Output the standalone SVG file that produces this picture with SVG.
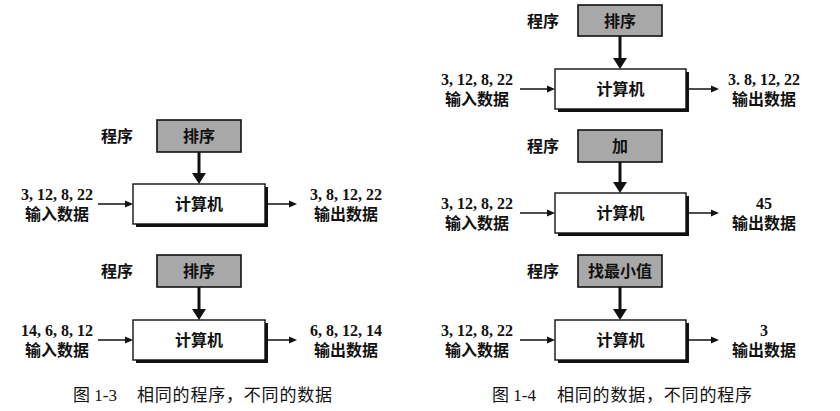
<svg xmlns="http://www.w3.org/2000/svg" width="840" height="411" viewBox="0 0 840 411">
<style>
.t{font-family:"Liberation Serif","Noto Sans CJK SC",serif;font-size:16px;font-weight:700;fill:#111;text-anchor:middle}
.cap{font-family:"Liberation Serif","Noto Sans CJK SC",serif;font-size:17px;font-weight:400;fill:#111}
.prog{fill:#a8a8a8;stroke:#111;stroke-width:1.6}
.comp{fill:#fff;stroke:#111;stroke-width:1.4}
.sh{fill:#111}
.thick{stroke:#111;stroke-width:3;fill:none}
.thin{stroke:#111;stroke-width:1.5;fill:none}
</style>
<defs>
<marker id="ah" markerUnits="userSpaceOnUse" markerWidth="12" markerHeight="14" refX="3" refY="7" orient="auto">
<path d="M0,0 L11,7 L0,14 z" fill="#111"/>
</marker>
<marker id="as" markerUnits="userSpaceOnUse" markerWidth="9" markerHeight="8" refX="2" refY="4" orient="auto">
<path d="M0,0.5 L8,4 L0,7.5 z" fill="#111"/>
</marker>
</defs>
<rect width="840" height="411" fill="#fff"/>

<!-- Figure 1-3, top -->
<g id="l1-program-label"><text class="t" x="117" y="142">程序</text></g>
<g id="l1-program"><rect class="prog" x="157" y="120" width="84" height="32"/><text class="t" x="199" y="142">排序</text></g>
<g id="l1-computer"><rect class="sh" x="136" y="187" width="132" height="40"/><rect class="comp" x="133" y="184" width="132" height="40"/><text class="t" x="199" y="210">计算机</text></g>
<g id="l1-input"><text class="t" x="57" y="200">3, 12, 8, 22</text><text class="t" x="57" y="220">输入数据</text></g>
<g id="l1-output"><text class="t" x="346" y="200">3, 8, 12, 22</text><text class="t" x="346" y="220">输出数据</text></g>

<!-- Figure 1-3, bottom -->
<g id="l2-program-label"><text class="t" x="117" y="277">程序</text></g>
<g id="l2-program"><rect class="prog" x="157" y="255" width="84" height="32"/><text class="t" x="199" y="277">排序</text></g>
<g id="l2-computer"><rect class="sh" x="136" y="323" width="132" height="40"/><rect class="comp" x="133" y="320" width="132" height="40"/><text class="t" x="199" y="346">计算机</text></g>
<g id="l2-input"><text class="t" x="57" y="336">14, 6, 8, 12</text><text class="t" x="57" y="356">输入数据</text></g>
<g id="l2-output"><text class="t" x="346" y="336">6, 8, 12, 14</text><text class="t" x="346" y="356">输出数据</text></g>

<!-- Figure 1-4, top -->
<g id="r1-program-label"><text class="t" x="543" y="27">程序</text></g>
<g id="r1-program"><rect class="prog" x="578" y="5" width="84" height="31"/><text class="t" x="620" y="27">排序</text></g>
<g id="r1-computer"><rect class="sh" x="558" y="72" width="131" height="40"/><rect class="comp" x="555" y="69" width="131" height="40"/><text class="t" x="620.5" y="95">计算机</text></g>
<g id="r1-input"><text class="t" x="477" y="85">3, 12, 8, 22</text><text class="t" x="477" y="105">输入数据</text></g>
<g id="r1-output"><text class="t" x="764" y="85">3. 8, 12, 22</text><text class="t" x="764" y="105">输出数据</text></g>

<!-- Figure 1-4, middle -->
<g id="r2-program-label"><text class="t" x="543" y="152">程序</text></g>
<g id="r2-program"><rect class="prog" x="578" y="130" width="84" height="32"/><text class="t" x="620" y="152">加</text></g>
<g id="r2-computer"><rect class="sh" x="558" y="196" width="131" height="40"/><rect class="comp" x="555" y="193" width="131" height="40"/><text class="t" x="620.5" y="219">计算机</text></g>
<g id="r2-input"><text class="t" x="477" y="209">3, 12, 8, 22</text><text class="t" x="477" y="229">输入数据</text></g>
<g id="r2-output"><text class="t" x="764" y="209">45</text><text class="t" x="764" y="229">输出数据</text></g>

<!-- Figure 1-4, bottom -->
<g id="r3-program-label"><text class="t" x="543" y="277">程序</text></g>
<g id="r3-program"><rect class="prog" x="578" y="255" width="84" height="32"/><text class="t" x="620" y="277">找最小值</text></g>
<g id="r3-computer"><rect class="sh" x="558" y="323" width="131" height="40"/><rect class="comp" x="555" y="320" width="131" height="40"/><text class="t" x="620.5" y="346">计算机</text></g>
<g id="r3-input"><text class="t" x="477" y="336">3, 12, 8, 22</text><text class="t" x="477" y="356">输入数据</text></g>
<g id="r3-output"><text class="t" x="764" y="336">3</text><text class="t" x="764" y="356">输出数据</text></g>

<g id="connectors">
<path class="thick" d="M199,152 V176" marker-end="url(#ah)"/>
<path class="thin" d="M98,204 H127" marker-end="url(#as)"/>
<path class="thin" d="M268,204 H291" marker-end="url(#as)"/>
<path class="thick" d="M199,287 V312" marker-end="url(#ah)"/>
<path class="thin" d="M98,340 H127" marker-end="url(#as)"/>
<path class="thin" d="M268,340 H291" marker-end="url(#as)"/>
<path class="thick" d="M620,36 V61" marker-end="url(#ah)"/>
<path class="thin" d="M520,89 H549" marker-end="url(#as)"/>
<path class="thin" d="M689,89 H713" marker-end="url(#as)"/>
<path class="thick" d="M620,162 V185" marker-end="url(#ah)"/>
<path class="thin" d="M520,213 H549" marker-end="url(#as)"/>
<path class="thin" d="M689,213 H713" marker-end="url(#as)"/>
<path class="thick" d="M620,287 V312" marker-end="url(#ah)"/>
<path class="thin" d="M520,340 H549" marker-end="url(#as)"/>
<path class="thin" d="M689,340 H713" marker-end="url(#as)"/>
</g>

<g id="captions">
<text class="cap" x="73" y="401">图 1-3<tspan x="137" letter-spacing="0.8">相同的程序，不同的数据</tspan></text>
<text class="cap" x="492" y="401">图 1-4<tspan x="557" letter-spacing="0.8">相同的数据，不同的程序</tspan></text>
</g>
</svg>
